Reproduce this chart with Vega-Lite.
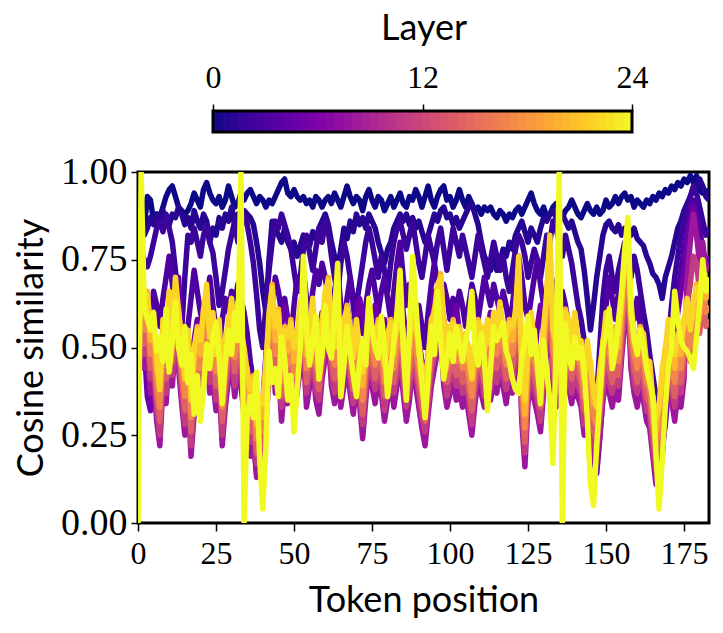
{
"$schema": "https://vega.github.io/schema/vega-lite/v6.json",
"background": "white",
"padding": {"left": 12, "top": 10, "right": 10, "bottom": 2},
"spacing": 17,
"config": {
 "view": {"stroke": "black", "strokeWidth": 3},
 "axis": {"grid": false, "domain": false, "tickColor": "black", "tickWidth": 1.5, "tickSize": 8, "labelFont": "Liberation Serif", "labelFontSize": 32, "labelColor": "black", "titleFont": "Lato", "titleFontSize": 36, "titleFontWeight": "normal", "titleColor": "black", "labelFlush": false, "labelOverlap": false, "labelBound": false}
},
"vconcat": [
 {
  "width": 571, "height": 21,
  "view": {"stroke": null},
  "layer": [
   {
    "data": {"values": [
{"s":0,"e":0.5,"c":0.25},{"s":0.5,"e":1,"c":0.75},{"s":1,"e":1.5,"c":1.25},{"s":1.5,"e":2,"c":1.75},{"s":2,"e":2.5,"c":2.25},{"s":2.5,"e":3,"c":2.75},{"s":3,"e":3.5,"c":3.25},{"s":3.5,"e":4,"c":3.75},{"s":4,"e":4.5,"c":4.25},{"s":4.5,"e":5,"c":4.75},{"s":5,"e":5.5,"c":5.25},{"s":5.5,"e":6,"c":5.75},{"s":6,"e":6.5,"c":6.25},{"s":6.5,"e":7,"c":6.75},{"s":7,"e":7.5,"c":7.25},{"s":7.5,"e":8,"c":7.75},{"s":8,"e":8.5,"c":8.25},{"s":8.5,"e":9,"c":8.75},{"s":9,"e":9.5,"c":9.25},{"s":9.5,"e":10,"c":9.75},{"s":10,"e":10.5,"c":10.25},{"s":10.5,"e":11,"c":10.75},{"s":11,"e":11.5,"c":11.25},{"s":11.5,"e":12,"c":11.75},{"s":12,"e":12.5,"c":12.25},{"s":12.5,"e":13,"c":12.75},{"s":13,"e":13.5,"c":13.25},{"s":13.5,"e":14,"c":13.75},{"s":14,"e":14.5,"c":14.25},{"s":14.5,"e":15,"c":14.75},{"s":15,"e":15.5,"c":15.25},{"s":15.5,"e":16,"c":15.75},{"s":16,"e":16.5,"c":16.25},{"s":16.5,"e":17,"c":16.75},{"s":17,"e":17.5,"c":17.25},{"s":17.5,"e":18,"c":17.75},{"s":18,"e":18.5,"c":18.25},{"s":18.5,"e":19,"c":18.75},{"s":19,"e":19.5,"c":19.25},{"s":19.5,"e":20,"c":19.75},{"s":20,"e":20.5,"c":20.25},{"s":20.5,"e":21,"c":20.75},{"s":21,"e":21.5,"c":21.25},{"s":21.5,"e":22,"c":21.75},{"s":22,"e":22.5,"c":22.25},{"s":22.5,"e":23,"c":22.75},{"s":23,"e":23.5,"c":23.25},{"s":23.5,"e":24,"c":23.75}
    ]},
    "mark": {"type": "rect", "strokeWidth": 1},
    "encoding": {
     "x": {"field": "s", "type": "quantitative", "scale": {"domain": [-4.296, 28.41], "nice": false, "zero": false},
       "axis": {"orient": "top", "values": [0, 12, 24], "title": "Layer", "labelPadding": 10, "titlePadding": 14, "tickSize": 7}},
     "x2": {"field": "e"},
     "color": {"field": "c", "type": "quantitative", "scale": {"scheme": "plasma", "domain": [0, 24]}, "legend": null},
     "stroke": {"field": "c", "type": "quantitative", "scale": {"scheme": "plasma", "domain": [0, 24]}, "legend": null}
    }
   },
   {
    "data": {"values": [{"s": 0, "e": 24}]},
    "mark": {"type": "rect", "fillOpacity": 0, "stroke": "black", "strokeWidth": 3},
    "encoding": {
     "x": {"field": "s", "type": "quantitative"},
     "x2": {"field": "e"}
    }
   }
  ]
 },
 {
  "width": 571, "height": 351,
  "data": {"values": [
{"t":0,"a":0.86,"b":0.80,"c":0.74,"d":0.70,"e":0.62,"g":0.49,"h":0.53,"i":0.56,"j":0.60,"k":0.64,"l":0.68,"m":0},
{"t":1,"a":0.88,"b":0.85,"c":0.78,"d":0.66,"e":0.58,"g":0.51,"h":0.54,"i":0.58,"j":0.62,"k":0.68,"l":0.67,"m":1},
{"t":2,"a":0.84,"b":0.82,"c":0.75,"d":0.60,"e":0.50,"g":0.44,"h":0.48,"i":0.51,"j":0.55,"k":0.59,"l":0.63,"m":0.62},
{"t":3,"a":0.93,"b":0.84,"c":0.73,"d":0.64,"e":0.36,"g":0.49,"h":0.52,"i":0.56,"j":0.60,"k":0.66,"l":0.65,"m":0.58},
{"t":4,"a":0.92,"b":0.87,"c":0.76,"d":0.58,"e":0.32,"g":0.37,"h":0.41,"i":0.44,"j":0.48,"k":0.52,"l":0.56,"m":0.55},
{"t":5,"a":0.86,"b":0.85,"c":0.80,"d":0.66,"e":0.44,"g":0.41,"h":0.44,"i":0.48,"j":0.52,"k":0.58,"l":0.57,"m":0.60},
{"t":6,"a":0.88,"b":0.88,"c":0.84,"d":0.62,"e":0.52,"g":0.29,"h":0.33,"i":0.36,"j":0.40,"k":0.44,"l":0.48,"m":0.49},
{"t":7,"a":0.87,"b":0.86,"c":0.86,"d":0.56,"e":0.46,"g":0.22,"h":0.25,"i":0.29,"j":0.33,"k":0.39,"l":0.38,"m":0.53},
{"t":8,"a":0.90,"b":0.89,"c":0.83,"d":0.64,"e":0.54,"g":0.39,"h":0.43,"i":0.46,"j":0.50,"k":0.54,"l":0.58,"m":0.46},
{"t":9,"a":0.93,"b":0.86,"c":0.88,"d":0.70,"e":0.48,"g":0.34,"h":0.37,"i":0.41,"j":0.45,"k":0.51,"l":0.50,"m":0.61},
{"t":10,"a":0.95,"b":0.85,"c":0.84,"d":0.76,"e":0.56,"g":0.47,"h":0.51,"i":0.54,"j":0.58,"k":0.62,"l":0.66,"m":0.43},
{"t":11,"a":0.96,"b":0.88,"c":0.80,"d":0.68,"e":0.62,"g":0.39,"h":0.42,"i":0.46,"j":0.50,"k":0.56,"l":0.55,"m":0.52},
{"t":12,"a":0.93,"b":0.87,"c":0.72,"d":0.60,"e":0.55,"g":0.51,"h":0.55,"i":0.58,"j":0.62,"k":0.66,"l":0.70,"m":0.63},
{"t":13,"a":0.90,"b":0.90,"c":0.62,"d":0.52,"e":0.70,"g":0.44,"h":0.47,"i":0.51,"j":0.55,"k":0.61,"l":0.60,"m":0.50},
{"t":14,"a":0.89,"b":0.88,"c":0.55,"d":0.48,"e":0.52,"g":0.34,"h":0.38,"i":0.41,"j":0.45,"k":0.49,"l":0.53,"m":0.45},
{"t":15,"a":0.88,"b":0.85,"c":0.70,"d":0.44,"e":0.40,"g":0.25,"h":0.28,"i":0.32,"j":0.36,"k":0.42,"l":0.41,"m":0.56},
{"t":16,"a":0.89,"b":0.87,"c":0.82,"d":0.56,"e":0.48,"g":0.36,"h":0.40,"i":0.43,"j":0.47,"k":0.51,"l":0.55,"m":0.40},
{"t":17,"a":0.91,"b":0.84,"c":0.80,"d":0.64,"e":0.40,"g":0.19,"h":0.22,"i":0.26,"j":0.30,"k":0.36,"l":0.35,"m":0.48},
{"t":18,"a":0.94,"b":0.89,"c":0.84,"d":0.72,"e":0.52,"g":0.31,"h":0.35,"i":0.38,"j":0.42,"k":0.46,"l":0.50,"m":0.31},
{"t":19,"a":0.92,"b":0.86,"c":0.80,"d":0.66,"e":0.58,"g":0.39,"h":0.42,"i":0.46,"j":0.50,"k":0.56,"l":0.55,"m":0.42},
{"t":20,"a":0.90,"b":0.84,"c":0.76,"d":0.60,"e":0.50,"g":0.33,"h":0.37,"i":0.40,"j":0.44,"k":0.48,"l":0.52,"m":0.29},
{"t":21,"a":0.95,"b":0.88,"c":0.82,"d":0.56,"e":0.44,"g":0.44,"h":0.47,"i":0.51,"j":0.55,"k":0.61,"l":0.60,"m":0.38},
{"t":22,"a":0.97,"b":0.86,"c":0.85,"d":0.64,"e":0.52,"g":0.49,"h":0.53,"i":0.56,"j":0.60,"k":0.64,"l":0.68,"m":0.51},
{"t":23,"a":0.94,"b":0.80,"c":0.80,"d":0.70,"e":0.60,"g":0.37,"h":0.40,"i":0.44,"j":0.48,"k":0.54,"l":0.53,"m":0.44},
{"t":24,"a":0.92,"b":0.84,"c":0.77,"d":0.62,"e":0.56,"g":0.41,"h":0.45,"i":0.48,"j":0.52,"k":0.56,"l":0.60,"m":0.53},
{"t":25,"a":0.91,"b":0.82,"c":0.70,"d":0.55,"e":0.50,"g":0.32,"h":0.35,"i":0.39,"j":0.43,"k":0.49,"l":0.48,"m":0.57},
{"t":26,"a":0.93,"b":0.87,"c":0.62,"d":0.50,"e":0.46,"g":0.39,"h":0.43,"i":0.46,"j":0.50,"k":0.54,"l":0.58,"m":0.47},
{"t":27,"a":0.90,"b":0.84,"c":0.66,"d":0.58,"e":0.40,"g":0.22,"h":0.25,"i":0.29,"j":0.33,"k":0.39,"l":0.38,"m":0.34},
{"t":28,"a":0.92,"b":0.88,"c":0.72,"d":0.64,"e":0.48,"g":0.33,"h":0.37,"i":0.40,"j":0.44,"k":0.48,"l":0.52,"m":0.46},
{"t":29,"a":0.96,"b":0.86,"c":0.78,"d":0.60,"e":0.54,"g":0.41,"h":0.44,"i":0.48,"j":0.52,"k":0.58,"l":0.57,"m":0.55},
{"t":30,"a":0.93,"b":0.90,"c":0.82,"d":0.66,"e":0.60,"g":0.45,"h":0.49,"i":0.52,"j":0.56,"k":0.60,"l":0.64,"m":0.48},
{"t":31,"a":0.90,"b":0.85,"c":0.86,"d":0.62,"e":0.56,"g":0.36,"h":0.39,"i":0.43,"j":0.47,"k":0.53,"l":0.52,"m":0.60},
{"t":32,"a":0.91,"b":0.88,"c":0.80,"d":0.68,"e":0.52,"g":0.44,"h":0.48,"i":0.51,"j":0.55,"k":0.59,"l":0.63,"m":0.52},
{"t":33,"a":0.94,"b":0.86,"c":0.84,"d":0.64,"e":0.48,"g":0.39,"h":0.42,"i":0.46,"j":0.50,"k":0.56,"l":0.55,"m":1},
{"t":34,"a":0.92,"b":0.89,"c":0.88,"d":0.60,"e":0.46,"g":0.31,"h":0.35,"i":0.38,"j":0.42,"k":0.46,"l":0.50,"m":0},
{"t":35,"a":0.94,"b":0.88,"c":0.85,"d":0.54,"e":0.38,"g":0.27,"h":0.30,"i":0.34,"j":0.38,"k":0.44,"l":0.43,"m":0.31},
{"t":36,"a":0.95,"b":0.87,"c":0.80,"d":0.46,"e":0.30,"g":0.19,"h":0.23,"i":0.26,"j":0.30,"k":0.34,"l":0.38,"m":0.36},
{"t":37,"a":0.93,"b":0.85,"c":0.74,"d":0.40,"e":0.24,"g":0.25,"h":0.28,"i":0.32,"j":0.36,"k":0.42,"l":0.41,"m":0.30},
{"t":38,"a":0.91,"b":0.80,"c":0.65,"d":0.32,"e":0.14,"g":0.13,"h":0.17,"i":0.20,"j":0.24,"k":0.28,"l":0.32,"m":0.43},
{"t":39,"a":0.93,"b":0.74,"c":0.55,"d":0.26,"e":0.20,"g":0.19,"h":0.22,"i":0.26,"j":0.30,"k":0.36,"l":0.35,"m":0.18},
{"t":40,"a":0.92,"b":0.66,"c":0.50,"d":0.34,"e":0.30,"g":0.15,"h":0.19,"i":0.22,"j":0.26,"k":0.30,"l":0.34,"m":0.04},
{"t":41,"a":0.90,"b":0.60,"c":0.62,"d":0.48,"e":0.42,"g":0.29,"h":0.32,"i":0.36,"j":0.40,"k":0.46,"l":0.45,"m":0.22},
{"t":42,"a":0.92,"b":0.75,"c":0.72,"d":0.56,"e":0.50,"g":0.41,"h":0.45,"i":0.48,"j":0.52,"k":0.56,"l":0.60,"m":0.49},
{"t":43,"a":0.91,"b":0.86,"c":0.80,"d":0.62,"e":0.56,"g":0.51,"h":0.54,"i":0.58,"j":0.62,"k":0.68,"l":0.67,"m":0.40},
{"t":44,"a":0.93,"b":0.84,"c":0.86,"d":0.70,"e":0.52,"g":0.37,"h":0.41,"i":0.44,"j":0.48,"k":0.52,"l":0.56,"m":0.44},
{"t":45,"a":0.95,"b":0.82,"c":0.84,"d":0.66,"e":0.48,"g":0.44,"h":0.47,"i":0.51,"j":0.55,"k":0.61,"l":0.60,"m":0.36},
{"t":46,"a":0.97,"b":0.80,"c":0.88,"d":0.60,"e":0.56,"g":0.29,"h":0.33,"i":0.36,"j":0.40,"k":0.44,"l":0.48,"m":0.53},
{"t":47,"a":0.98,"b":0.84,"c":0.85,"d":0.64,"e":0.62,"g":0.39,"h":0.42,"i":0.46,"j":0.50,"k":0.56,"l":0.55,"m":0.47},
{"t":48,"a":0.94,"b":0.80,"c":0.82,"d":0.58,"e":0.58,"g":0.34,"h":0.38,"i":0.41,"j":0.45,"k":0.49,"l":0.53,"m":0.35},
{"t":49,"a":0.93,"b":0.78,"c":0.78,"d":0.52,"e":0.50,"g":0.41,"h":0.44,"i":0.48,"j":0.52,"k":0.58,"l":0.57,"m":0.42},
{"t":50,"a":0.95,"b":0.80,"c":0.72,"d":0.62,"e":0.46,"g":0.31,"h":0.35,"i":0.38,"j":0.42,"k":0.46,"l":0.50,"m":0.26},
{"t":51,"a":0.93,"b":0.76,"c":0.66,"d":0.70,"e":0.54,"g":0.37,"h":0.40,"i":0.44,"j":0.48,"k":0.54,"l":0.53,"m":0.38},
{"t":52,"a":0.92,"b":0.79,"c":0.70,"d":0.66,"e":0.48,"g":0.44,"h":0.48,"i":0.51,"j":0.55,"k":0.59,"l":0.63,"m":0.50},
{"t":53,"a":0.93,"b":0.82,"c":0.78,"d":0.72,"e":0.56,"g":0.49,"h":0.52,"i":0.56,"j":0.60,"k":0.66,"l":0.65,"m":0.76},
{"t":54,"a":0.91,"b":0.80,"c":0.82,"d":0.64,"e":0.62,"g":0.33,"h":0.37,"i":0.40,"j":0.44,"k":0.48,"l":0.52,"m":0.56},
{"t":55,"a":0.92,"b":0.79,"c":0.77,"d":0.58,"e":0.54,"g":0.39,"h":0.42,"i":0.46,"j":0.50,"k":0.56,"l":0.55,"m":0.45},
{"t":56,"a":0.90,"b":0.83,"c":0.72,"d":0.66,"e":0.48,"g":0.45,"h":0.49,"i":0.52,"j":0.56,"k":0.60,"l":0.64,"m":0.52},
{"t":57,"a":0.93,"b":0.81,"c":0.78,"d":0.72,"e":0.56,"g":0.35,"h":0.38,"i":0.42,"j":0.46,"k":0.52,"l":0.51,"m":0.59},
{"t":58,"a":0.92,"b":0.84,"c":0.84,"d":0.68,"e":0.52,"g":0.31,"h":0.35,"i":0.38,"j":0.42,"k":0.46,"l":0.50,"m":0.41},
{"t":59,"a":0.90,"b":0.86,"c":0.80,"d":0.74,"e":0.60,"g":0.41,"h":0.44,"i":0.48,"j":0.52,"k":0.58,"l":0.57,"m":0.48},
{"t":60,"a":0.92,"b":0.88,"c":0.86,"d":0.70,"e":0.56,"g":0.47,"h":0.51,"i":0.54,"j":0.58,"k":0.62,"l":0.66,"m":0.62},
{"t":61,"a":0.93,"b":0.85,"c":0.83,"d":0.64,"e":0.50,"g":0.53,"h":0.56,"i":0.60,"j":0.64,"k":0.70,"l":0.69,"m":0.50},
{"t":62,"a":0.91,"b":0.80,"c":0.76,"d":0.58,"e":0.58,"g":0.39,"h":0.43,"i":0.46,"j":0.50,"k":0.54,"l":0.58,"m":0.47},
{"t":63,"a":0.94,"b":0.76,"c":0.70,"d":0.66,"e":0.64,"g":0.34,"h":0.37,"i":0.41,"j":0.45,"k":0.51,"l":0.50,"m":0.60},
{"t":64,"a":0.92,"b":0.72,"c":0.65,"d":0.72,"e":0.56,"g":0.43,"h":0.47,"i":0.50,"j":0.54,"k":0.58,"l":0.62,"m":0.74},
{"t":65,"a":0.90,"b":0.78,"c":0.74,"d":0.62,"e":0.50,"g":0.33,"h":0.36,"i":0.40,"j":0.44,"k":0.50,"l":0.49,"m":0.36},
{"t":66,"a":0.93,"b":0.84,"c":0.80,"d":0.56,"e":0.56,"g":0.39,"h":0.43,"i":0.46,"j":0.50,"k":0.54,"l":0.58,"m":0.45},
{"t":67,"a":0.96,"b":0.81,"c":0.76,"d":0.64,"e":0.62,"g":0.45,"h":0.48,"i":0.52,"j":0.56,"k":0.62,"l":0.61,"m":0.56},
{"t":68,"a":0.93,"b":0.86,"c":0.70,"d":0.70,"e":0.56,"g":0.37,"h":0.41,"i":0.44,"j":0.48,"k":0.52,"l":0.56,"m":0.49},
{"t":69,"a":0.91,"b":0.83,"c":0.64,"d":0.62,"e":0.50,"g":0.31,"h":0.34,"i":0.38,"j":0.42,"k":0.48,"l":0.47,"m":0.42},
{"t":70,"a":0.93,"b":0.88,"c":0.62,"d":0.55,"e":0.58,"g":0.39,"h":0.43,"i":0.46,"j":0.50,"k":0.54,"l":0.58,"m":0.36},
{"t":71,"a":0.92,"b":0.85,"c":0.68,"d":0.60,"e":0.64,"g":0.34,"h":0.37,"i":0.41,"j":0.45,"k":0.51,"l":0.50,"m":0.46},
{"t":72,"a":0.89,"b":0.87,"c":0.74,"d":0.54,"e":0.60,"g":0.24,"h":0.28,"i":0.31,"j":0.35,"k":0.39,"l":0.43,"m":0.52},
{"t":73,"a":0.93,"b":0.84,"c":0.80,"d":0.62,"e":0.54,"g":0.35,"h":0.38,"i":0.42,"j":0.46,"k":0.52,"l":0.51,"m":0.45},
{"t":74,"a":0.95,"b":0.88,"c":0.84,"d":0.68,"e":0.50,"g":0.44,"h":0.48,"i":0.51,"j":0.55,"k":0.59,"l":0.63,"m":0.64},
{"t":75,"a":0.92,"b":0.86,"c":0.80,"d":0.72,"e":0.56,"g":0.39,"h":0.42,"i":0.46,"j":0.50,"k":0.56,"l":0.55,"m":0.55},
{"t":76,"a":0.90,"b":0.84,"c":0.75,"d":0.66,"e":0.62,"g":0.34,"h":0.38,"i":0.41,"j":0.45,"k":0.49,"l":0.53,"m":0.50},
{"t":77,"a":0.93,"b":0.80,"c":0.70,"d":0.60,"e":0.56,"g":0.41,"h":0.44,"i":0.48,"j":0.52,"k":0.58,"l":0.57,"m":0.47},
{"t":78,"a":0.92,"b":0.77,"c":0.76,"d":0.66,"e":0.50,"g":0.37,"h":0.41,"i":0.44,"j":0.48,"k":0.52,"l":0.56,"m":0.59},
{"t":79,"a":0.89,"b":0.74,"c":0.72,"d":0.70,"e":0.58,"g":0.29,"h":0.32,"i":0.36,"j":0.40,"k":0.46,"l":0.45,"m":0.50},
{"t":80,"a":0.91,"b":0.78,"c":0.66,"d":0.64,"e":0.52,"g":0.35,"h":0.39,"i":0.42,"j":0.46,"k":0.50,"l":0.54,"m":0.36},
{"t":81,"a":0.93,"b":0.80,"c":0.74,"d":0.58,"e":0.46,"g":0.41,"h":0.44,"i":0.48,"j":0.52,"k":0.58,"l":0.57,"m":0.44},
{"t":82,"a":0.90,"b":0.84,"c":0.80,"d":0.66,"e":0.54,"g":0.33,"h":0.37,"i":0.40,"j":0.44,"k":0.48,"l":0.52,"m":0.52},
{"t":83,"a":0.92,"b":0.86,"c":0.84,"d":0.74,"e":0.62,"g":0.39,"h":0.42,"i":0.46,"j":0.50,"k":0.56,"l":0.55,"m":0.60},
{"t":84,"a":0.94,"b":0.88,"c":0.86,"d":0.80,"e":0.70,"g":0.47,"h":0.51,"i":0.54,"j":0.58,"k":0.62,"l":0.66,"m":0.72},
{"t":85,"a":0.91,"b":0.86,"c":0.82,"d":0.70,"e":0.60,"g":0.37,"h":0.40,"i":0.44,"j":0.48,"k":0.54,"l":0.53,"m":0.50},
{"t":86,"a":0.90,"b":0.88,"c":0.78,"d":0.62,"e":0.52,"g":0.29,"h":0.33,"i":0.36,"j":0.40,"k":0.44,"l":0.48,"m":0.35},
{"t":87,"a":0.93,"b":0.85,"c":0.82,"d":0.68,"e":0.56,"g":0.35,"h":0.38,"i":0.42,"j":0.46,"k":0.52,"l":0.51,"m":0.55},
{"t":88,"a":0.92,"b":0.87,"c":0.86,"d":0.64,"e":0.50,"g":0.44,"h":0.48,"i":0.51,"j":0.55,"k":0.59,"l":0.63,"m":0.76},
{"t":89,"a":0.95,"b":0.84,"c":0.80,"d":0.58,"e":0.44,"g":0.39,"h":0.42,"i":0.46,"j":0.50,"k":0.56,"l":0.55,"m":0.63},
{"t":90,"a":0.93,"b":0.86,"c":0.74,"d":0.62,"e":0.52,"g":0.33,"h":0.37,"i":0.40,"j":0.44,"k":0.48,"l":0.52,"m":0.50},
{"t":91,"a":0.90,"b":0.83,"c":0.70,"d":0.56,"e":0.46,"g":0.27,"h":0.30,"i":0.34,"j":0.38,"k":0.44,"l":0.43,"m":0.40},
{"t":92,"a":0.93,"b":0.80,"c":0.76,"d":0.50,"e":0.40,"g":0.22,"h":0.26,"i":0.29,"j":0.33,"k":0.37,"l":0.41,"m":0.30},
{"t":93,"a":0.96,"b":0.82,"c":0.82,"d":0.60,"e":0.48,"g":0.31,"h":0.34,"i":0.38,"j":0.42,"k":0.48,"l":0.47,"m":0.41},
{"t":94,"a":0.92,"b":0.85,"c":0.78,"d":0.68,"e":0.56,"g":0.39,"h":0.43,"i":0.46,"j":0.50,"k":0.54,"l":0.58,"m":0.56},
{"t":95,"a":0.90,"b":0.88,"c":0.74,"d":0.74,"e":0.66,"g":0.44,"h":0.47,"i":0.51,"j":0.55,"k":0.61,"l":0.60,"m":0.48},
{"t":96,"a":0.93,"b":0.86,"c":0.80,"d":0.68,"e":0.60,"g":0.49,"h":0.53,"i":0.56,"j":0.60,"k":0.64,"l":0.68,"m":0.66},
{"t":97,"a":0.95,"b":0.89,"c":0.84,"d":0.62,"e":0.54,"g":0.54,"h":0.57,"i":0.61,"j":0.65,"k":0.71,"l":0.70,"m":0.52},
{"t":98,"a":0.96,"b":0.90,"c":0.78,"d":0.68,"e":0.58,"g":0.39,"h":0.43,"i":0.46,"j":0.50,"k":0.54,"l":0.58,"m":0.41},
{"t":99,"a":0.92,"b":0.87,"c":0.72,"d":0.64,"e":0.52,"g":0.33,"h":0.36,"i":0.40,"j":0.44,"k":0.50,"l":0.49,"m":0.47},
{"t":100,"a":0.93,"b":0.88,"c":0.78,"d":0.58,"e":0.48,"g":0.37,"h":0.41,"i":0.44,"j":0.48,"k":0.52,"l":0.56,"m":0.54},
{"t":101,"a":0.90,"b":0.85,"c":0.84,"d":0.64,"e":0.56,"g":0.41,"h":0.44,"i":0.48,"j":0.52,"k":0.58,"l":0.57,"m":0.46},
{"t":102,"a":0.92,"b":0.87,"c":0.80,"d":0.60,"e":0.62,"g":0.35,"h":0.39,"i":0.42,"j":0.46,"k":0.50,"l":0.54,"m":0.56},
{"t":103,"a":0.95,"b":0.84,"c":0.76,"d":0.66,"e":0.54,"g":0.39,"h":0.42,"i":0.46,"j":0.50,"k":0.56,"l":0.55,"m":0.51},
{"t":104,"a":0.92,"b":0.86,"c":0.82,"d":0.62,"e":0.48,"g":0.33,"h":0.37,"i":0.40,"j":0.44,"k":0.48,"l":0.52,"m":0.46},
{"t":105,"a":0.90,"b":0.88,"c":0.78,"d":0.56,"e":0.52,"g":0.37,"h":0.40,"i":0.44,"j":0.48,"k":0.54,"l":0.53,"m":0.52},
{"t":106,"a":0.93,"b":0.90,"c":0.74,"d":0.62,"e":0.46,"g":0.31,"h":0.35,"i":0.38,"j":0.42,"k":0.46,"l":0.50,"m":0.56},
{"t":107,"a":0.91,"b":0.91,"c":0.70,"d":0.68,"e":0.42,"g":0.25,"h":0.28,"i":0.32,"j":0.36,"k":0.42,"l":0.41,"m":0.66},
{"t":108,"a":0.89,"b":0.88,"c":0.76,"d":0.64,"e":0.50,"g":0.34,"h":0.38,"i":0.41,"j":0.45,"k":0.49,"l":0.53,"m":0.50},
{"t":109,"a":0.90,"b":0.85,"c":0.82,"d":0.58,"e":0.56,"g":0.41,"h":0.44,"i":0.48,"j":0.52,"k":0.58,"l":0.57,"m":0.45},
{"t":110,"a":0.88,"b":0.80,"c":0.78,"d":0.64,"e":0.52,"g":0.37,"h":0.41,"i":0.44,"j":0.48,"k":0.52,"l":0.56,"m":0.54},
{"t":111,"a":0.90,"b":0.76,"c":0.74,"d":0.70,"e":0.48,"g":0.33,"h":0.36,"i":0.40,"j":0.44,"k":0.50,"l":0.49,"m":0.47},
{"t":112,"a":0.89,"b":0.74,"c":0.70,"d":0.66,"e":0.56,"g":0.39,"h":0.43,"i":0.46,"j":0.50,"k":0.54,"l":0.58,"m":0.32},
{"t":113,"a":0.90,"b":0.72,"c":0.75,"d":0.62,"e":0.60,"g":0.35,"h":0.38,"i":0.42,"j":0.46,"k":0.52,"l":0.51,"m":0.44},
{"t":114,"a":0.88,"b":0.76,"c":0.80,"d":0.68,"e":0.54,"g":0.41,"h":0.45,"i":0.48,"j":0.52,"k":0.56,"l":0.60,"m":0.56},
{"t":115,"a":0.87,"b":0.72,"c":0.76,"d":0.64,"e":0.50,"g":0.37,"h":0.40,"i":0.44,"j":0.48,"k":0.54,"l":0.53,"m":0.52},
{"t":116,"a":0.89,"b":0.74,"c":0.72,"d":0.60,"e":0.56,"g":0.44,"h":0.48,"i":0.51,"j":0.55,"k":0.59,"l":0.63,"m":0.54},
{"t":117,"a":0.88,"b":0.78,"c":0.76,"d":0.66,"e":0.52,"g":0.39,"h":0.42,"i":0.46,"j":0.50,"k":0.56,"l":0.55,"m":0.57},
{"t":118,"a":0.86,"b":0.76,"c":0.70,"d":0.62,"e":0.48,"g":0.34,"h":0.38,"i":0.41,"j":0.45,"k":0.49,"l":0.53,"m":0.49},
{"t":119,"a":0.88,"b":0.80,"c":0.66,"d":0.56,"e":0.54,"g":0.41,"h":0.44,"i":0.48,"j":0.52,"k":0.58,"l":0.57,"m":0.46},
{"t":120,"a":0.87,"b":0.78,"c":0.72,"d":0.62,"e":0.58,"g":0.37,"h":0.41,"i":0.44,"j":0.48,"k":0.52,"l":0.56,"m":0.41},
{"t":121,"a":0.89,"b":0.82,"c":0.78,"d":0.70,"e":0.52,"g":0.44,"h":0.47,"i":0.51,"j":0.55,"k":0.61,"l":0.60,"m":0.38},
{"t":122,"a":0.90,"b":0.84,"c":0.82,"d":0.76,"e":0.46,"g":0.57,"h":0.61,"i":0.64,"j":0.68,"k":0.72,"l":0.76,"m":0.37},
{"t":123,"a":0.88,"b":0.86,"c":0.80,"d":0.70,"e":0.40,"g":0.29,"h":0.32,"i":0.36,"j":0.40,"k":0.46,"l":0.45,"m":0.47},
{"t":124,"a":0.90,"b":0.83,"c":0.76,"d":0.62,"e":0.34,"g":0.16,"h":0.20,"i":0.23,"j":0.27,"k":0.31,"l":0.35,"m":0.52},
{"t":125,"a":0.92,"b":0.80,"c":0.70,"d":0.58,"e":0.42,"g":0.34,"h":0.37,"i":0.41,"j":0.45,"k":0.51,"l":0.50,"m":0.59},
{"t":126,"a":0.94,"b":0.84,"c":0.74,"d":0.64,"e":0.50,"g":0.41,"h":0.45,"i":0.48,"j":0.52,"k":0.56,"l":0.60,"m":0.48},
{"t":127,"a":0.91,"b":0.82,"c":0.78,"d":0.70,"e":0.46,"g":0.35,"h":0.38,"i":0.42,"j":0.46,"k":0.52,"l":0.51,"m":0.55},
{"t":128,"a":0.89,"b":0.80,"c":0.75,"d":0.75,"e":0.56,"g":0.31,"h":0.35,"i":0.38,"j":0.42,"k":0.46,"l":0.50,"m":0.45},
{"t":129,"a":0.88,"b":0.84,"c":0.70,"d":0.68,"e":0.62,"g":0.26,"h":0.29,"i":0.33,"j":0.37,"k":0.43,"l":0.42,"m":0.34},
{"t":130,"a":0.90,"b":0.87,"c":0.76,"d":0.62,"e":0.54,"g":0.37,"h":0.41,"i":0.44,"j":0.48,"k":0.52,"l":0.56,"m":0.52},
{"t":131,"a":0.87,"b":0.86,"c":0.82,"d":0.66,"e":0.48,"g":0.49,"h":0.52,"i":0.56,"j":0.60,"k":0.66,"l":0.65,"m":0.43},
{"t":132,"a":0.88,"b":0.88,"c":0.80,"d":0.72,"e":0.56,"g":0.63,"h":0.67,"i":0.70,"j":0.74,"k":0.78,"l":0.82,"m":0.35},
{"t":133,"a":0.90,"b":0.89,"c":0.86,"d":0.68,"e":0.52,"g":0.39,"h":0.42,"i":0.46,"j":0.50,"k":0.56,"l":0.55,"m":0.17},
{"t":134,"a":0.91,"b":0.87,"c":0.84,"d":0.62,"e":0.46,"g":0.33,"h":0.37,"i":0.40,"j":0.44,"k":0.48,"l":0.52,"m":0.50},
{"t":135,"a":0.89,"b":0.86,"c":0.80,"d":0.60,"e":0.52,"g":0.41,"h":0.44,"i":0.48,"j":0.52,"k":0.58,"l":0.57,"m":1},
{"t":136,"a":0.87,"b":0.88,"c":0.76,"d":0.66,"e":0.58,"g":0.37,"h":0.41,"i":0.44,"j":0.48,"k":0.52,"l":0.56,"m":0},
{"t":137,"a":0.89,"b":0.86,"c":0.82,"d":0.62,"e":0.50,"g":0.44,"h":0.47,"i":0.51,"j":0.55,"k":0.61,"l":0.60,"m":0.57},
{"t":138,"a":0.90,"b":0.84,"c":0.78,"d":0.56,"e":0.44,"g":0.39,"h":0.43,"i":0.46,"j":0.50,"k":0.54,"l":0.58,"m":0.48},
{"t":139,"a":0.92,"b":0.86,"c":0.74,"d":0.50,"e":0.40,"g":0.34,"h":0.37,"i":0.41,"j":0.45,"k":0.51,"l":0.50,"m":0.44},
{"t":140,"a":0.90,"b":0.83,"c":0.68,"d":0.44,"e":0.36,"g":0.41,"h":0.45,"i":0.48,"j":0.52,"k":0.56,"l":0.60,"m":0.53},
{"t":141,"a":0.88,"b":0.80,"c":0.62,"d":0.50,"e":0.44,"g":0.36,"h":0.39,"i":0.43,"j":0.47,"k":0.53,"l":0.52,"m":0.47},
{"t":142,"a":0.87,"b":0.78,"c":0.58,"d":0.46,"e":0.38,"g":0.33,"h":0.37,"i":0.40,"j":0.44,"k":0.48,"l":0.52,"m":0.50},
{"t":143,"a":0.89,"b":0.72,"c":0.52,"d":0.42,"e":0.34,"g":0.25,"h":0.28,"i":0.32,"j":0.36,"k":0.42,"l":0.41,"m":0.44},
{"t":144,"a":0.91,"b":0.64,"c":0.45,"d":0.36,"e":0.28,"g":0.33,"h":0.37,"i":0.40,"j":0.44,"k":0.48,"l":0.52,"m":0.30},
{"t":145,"a":0.89,"b":0.55,"c":0.38,"d":0.28,"e":0.22,"g":0.29,"h":0.32,"i":0.36,"j":0.40,"k":0.46,"l":0.45,"m":0.11},
{"t":146,"a":0.88,"b":0.62,"c":0.30,"d":0.20,"e":0.18,"g":0.19,"h":0.23,"i":0.26,"j":0.30,"k":0.34,"l":0.38,"m":0.05},
{"t":147,"a":0.90,"b":0.70,"c":0.36,"d":0.17,"e":0.14,"g":0.17,"h":0.20,"i":0.24,"j":0.28,"k":0.34,"l":0.33,"m":0.22},
{"t":148,"a":0.88,"b":0.76,"c":0.50,"d":0.28,"e":0.24,"g":0.25,"h":0.29,"i":0.32,"j":0.36,"k":0.40,"l":0.44,"m":0.35},
{"t":149,"a":0.89,"b":0.82,"c":0.64,"d":0.44,"e":0.36,"g":0.35,"h":0.38,"i":0.42,"j":0.46,"k":0.52,"l":0.51,"m":0.50},
{"t":150,"a":0.92,"b":0.85,"c":0.72,"d":0.62,"e":0.48,"g":0.41,"h":0.45,"i":0.48,"j":0.52,"k":0.56,"l":0.60,"m":0.54},
{"t":151,"a":0.90,"b":0.86,"c":0.76,"d":0.70,"e":0.56,"g":0.37,"h":0.40,"i":0.44,"j":0.48,"k":0.54,"l":0.53,"m":0.61},
{"t":152,"a":0.91,"b":0.84,"c":0.70,"d":0.64,"e":0.50,"g":0.33,"h":0.37,"i":0.40,"j":0.44,"k":0.48,"l":0.52,"m":0.44},
{"t":153,"a":0.93,"b":0.83,"c":0.66,"d":0.58,"e":0.44,"g":0.39,"h":0.42,"i":0.46,"j":0.50,"k":0.56,"l":0.55,"m":0.49},
{"t":154,"a":0.91,"b":0.85,"c":0.72,"d":0.66,"e":0.52,"g":0.35,"h":0.39,"i":0.42,"j":0.46,"k":0.50,"l":0.54,"m":0.58},
{"t":155,"a":0.93,"b":0.82,"c":0.76,"d":0.72,"e":0.60,"g":0.47,"h":0.50,"i":0.54,"j":0.58,"k":0.64,"l":0.63,"m":0.66},
{"t":156,"a":0.94,"b":0.84,"c":0.80,"d":0.76,"e":0.66,"g":0.57,"h":0.61,"i":0.64,"j":0.68,"k":0.72,"l":0.76,"m":0.78},
{"t":157,"a":0.92,"b":0.83,"c":0.74,"d":0.70,"e":0.58,"g":0.64,"h":0.67,"i":0.71,"j":0.75,"k":0.81,"l":0.80,"m":0.87},
{"t":158,"a":0.93,"b":0.82,"c":0.70,"d":0.62,"e":0.50,"g":0.44,"h":0.48,"i":0.51,"j":0.55,"k":0.59,"l":0.63,"m":0.60},
{"t":159,"a":0.90,"b":0.84,"c":0.76,"d":0.58,"e":0.46,"g":0.37,"h":0.40,"i":0.44,"j":0.48,"k":0.54,"l":0.53,"m":0.52},
{"t":160,"a":0.92,"b":0.81,"c":0.72,"d":0.64,"e":0.54,"g":0.33,"h":0.37,"i":0.40,"j":0.44,"k":0.48,"l":0.52,"m":0.48},
{"t":161,"a":0.91,"b":0.80,"c":0.66,"d":0.56,"e":0.48,"g":0.39,"h":0.42,"i":0.46,"j":0.50,"k":0.56,"l":0.55,"m":0.55},
{"t":162,"a":0.90,"b":0.79,"c":0.60,"d":0.50,"e":0.42,"g":0.35,"h":0.39,"i":0.42,"j":0.46,"k":0.50,"l":0.54,"m":0.50},
{"t":163,"a":0.92,"b":0.76,"c":0.55,"d":0.46,"e":0.38,"g":0.29,"h":0.32,"i":0.36,"j":0.40,"k":0.46,"l":0.45,"m":0.44},
{"t":164,"a":0.91,"b":0.74,"c":0.48,"d":0.42,"e":0.34,"g":0.27,"h":0.31,"i":0.34,"j":0.38,"k":0.42,"l":0.46,"m":0.40},
{"t":165,"a":0.93,"b":0.71,"c":0.42,"d":0.36,"e":0.30,"g":0.19,"h":0.22,"i":0.26,"j":0.30,"k":0.36,"l":0.35,"m":0.36},
{"t":166,"a":0.92,"b":0.70,"c":0.36,"d":0.28,"e":0.24,"g":0.11,"h":0.15,"i":0.18,"j":0.22,"k":0.26,"l":0.30,"m":0.20},
{"t":167,"a":0.94,"b":0.68,"c":0.30,"d":0.22,"e":0.18,"g":0.17,"h":0.20,"i":0.24,"j":0.28,"k":0.34,"l":0.33,"m":0.04},
{"t":168,"a":0.93,"b":0.64,"c":0.28,"d":0.19,"e":0.22,"g":0.25,"h":0.29,"i":0.32,"j":0.36,"k":0.40,"l":0.44,"m":0.18},
{"t":169,"a":0.95,"b":0.70,"c":0.40,"d":0.30,"e":0.28,"g":0.33,"h":0.36,"i":0.40,"j":0.44,"k":0.50,"l":0.49,"m":0.33},
{"t":170,"a":0.94,"b":0.73,"c":0.52,"d":0.42,"e":0.38,"g":0.39,"h":0.43,"i":0.46,"j":0.50,"k":0.54,"l":0.58,"m":0.45},
{"t":171,"a":0.96,"b":0.76,"c":0.62,"d":0.50,"e":0.46,"g":0.35,"h":0.38,"i":0.42,"j":0.46,"k":0.52,"l":0.51,"m":0.50},
{"t":172,"a":0.95,"b":0.80,"c":0.70,"d":0.58,"e":0.54,"g":0.29,"h":0.33,"i":0.36,"j":0.40,"k":0.44,"l":0.48,"m":0.66},
{"t":173,"a":0.97,"b":0.84,"c":0.76,"d":0.66,"e":0.60,"g":0.37,"h":0.40,"i":0.44,"j":0.48,"k":0.54,"l":0.53,"m":0.58},
{"t":174,"a":0.96,"b":0.86,"c":0.82,"d":0.72,"e":0.66,"g":0.33,"h":0.37,"i":0.40,"j":0.44,"k":0.48,"l":0.52,"m":0.52},
{"t":175,"a":0.98,"b":0.89,"c":0.86,"d":0.78,"e":0.72,"g":0.41,"h":0.44,"i":0.48,"j":0.52,"k":0.58,"l":0.57,"m":0.50},
{"t":176,"a":0.97,"b":0.91,"c":0.90,"d":0.84,"e":0.80,"g":0.70,"h":0.62,"i":0.52,"j":0.56,"k":0.60,"l":0.64,"m":0.49},
{"t":177,"a":0.99,"b":0.93,"c":0.93,"d":0.90,"e":0.86,"g":0.80,"h":0.68,"i":0.46,"j":0.50,"k":0.56,"l":0.55,"m":0.47},
{"t":178,"a":0.97,"b":0.95,"c":0.96,"d":0.92,"e":0.90,"g":0.88,"h":0.76,"i":0.51,"j":0.55,"k":0.59,"l":0.63,"m":0.44},
{"t":179,"a":0.99,"b":0.96,"c":0.94,"d":0.88,"e":0.84,"g":0.82,"h":0.74,"i":0.58,"j":0.62,"k":0.68,"l":0.67,"m":0.53},
{"t":180,"a":0.95,"b":0.98,"c":0.90,"d":0.84,"e":0.78,"g":0.74,"h":0.66,"i":0.54,"j":0.58,"k":0.62,"l":0.66,"m":0.62},
{"t":181,"a":0.94,"b":0.96,"c":0.86,"d":0.78,"e":0.70,"g":0.80,"h":0.72,"i":0.62,"j":0.66,"k":0.72,"l":0.71,"m":0.75},
{"t":182,"a":0.94,"b":0.93,"c":0.82,"d":0.74,"e":0.66,"g":0.72,"h":0.64,"i":0.56,"j":0.60,"k":0.64,"l":0.68,"m":0.66},
{"t":183,"a":0.95,"b":0.92,"c":0.84,"d":0.76,"e":0.68,"g":0.74,"h":0.66,"i":0.58,"j":0.62,"k":0.68,"l":0.67,"m":0.70}
  ]},
  "transform": [
   {"fold": ["a","b","c","d","e","g","h","i","j","k","l","m"], "as": ["key", "v"]},
   {"lookup": "key", "from": {"data": {"values": [
     {"key":"a","layer":0},{"key":"b","layer":1},{"key":"c","layer":2},{"key":"d","layer":3},{"key":"e","layer":5},{"key":"g","layer":8},{"key":"h","layer":11},{"key":"i","layer":14},{"key":"j","layer":17},{"key":"k","layer":20},{"key":"l","layer":22},{"key":"m","layer":24}
   ]}, "key": "key", "fields": ["layer"]}}
  ],
  "mark": {"type": "line", "strokeWidth": 5.5, "clip": true, "strokeJoin": "round"},
  "encoding": {
   "x": {"field": "t", "type": "quantitative", "scale": {"domain": [0, 183], "nice": false, "zero": false},
     "axis": {"values": [0, 25, 50, 75, 100, 125, 150, 175], "title": "Token position", "labelPadding": 7, "titlePadding": 14}},
   "y": {"field": "v", "type": "quantitative", "scale": {"domain": [0, 1], "nice": false},
     "axis": {"values": [0, 0.25, 0.5, 0.75, 1], "format": ".2f", "title": "Cosine similarity", "labelPadding": 4, "titlePadding": 10, "labelFontSize": 38, "tickSize": 7}},
   "color": {"field": "layer", "type": "quantitative", "scale": {"scheme": "plasma", "domain": [0, 24]}, "legend": null},
   "detail": {"field": "layer", "type": "quantitative"}
  }
 }
]
}
